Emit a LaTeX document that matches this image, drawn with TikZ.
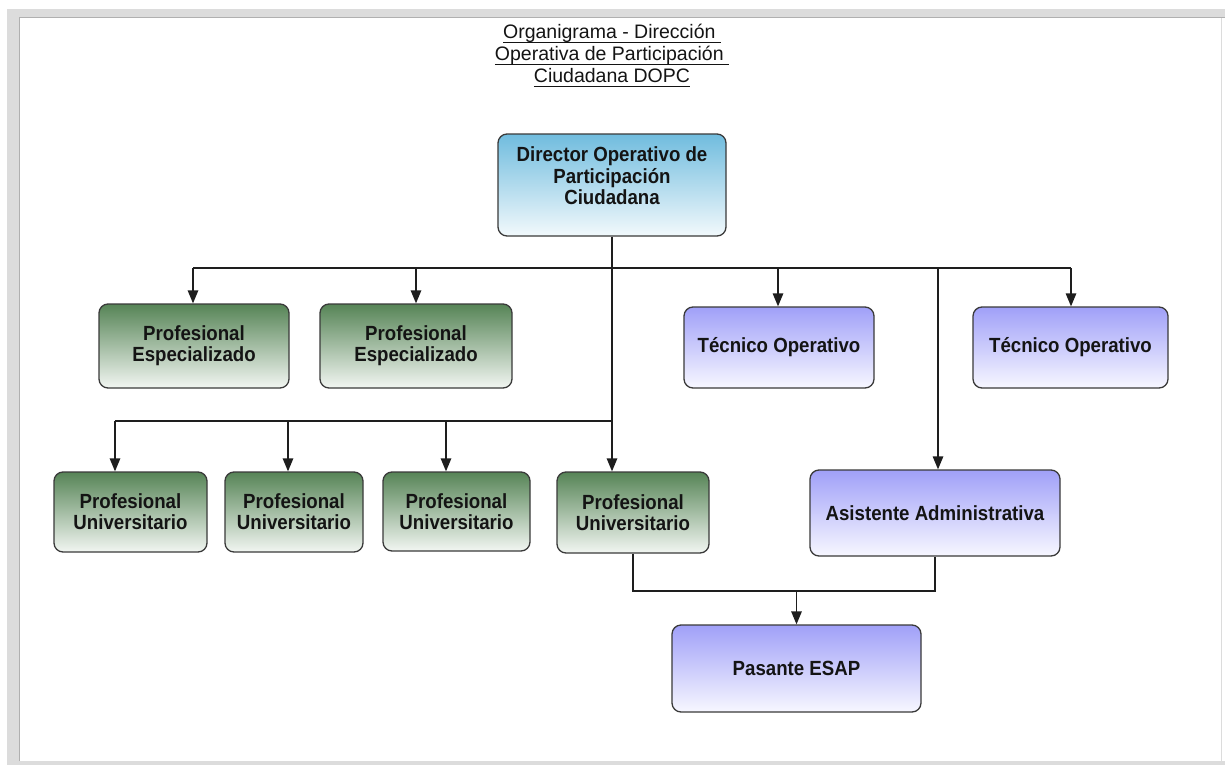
\documentclass[tikz,border=0pt]{standalone}
\usepackage{fontspec}
\setmainfont{Liberation Sans}
\newfontfamily\boxfont[FakeStretch=0.91]{Liberation Sans}
\usetikzlibrary{arrows.meta}
\definecolor{framegray}{RGB}{220,220,220}
\definecolor{frameedge}{RGB}{176,176,176}
\definecolor{bordercol}{RGB}{58,58,58}
\definecolor{linecol}{RGB}{30,30,30}
\definecolor{textcol}{RGB}{20,20,20}
\definecolor{gtop}{RGB}{86,132,86}
\definecolor{gbot}{RGB}{242,246,242}
\definecolor{ptop}{RGB}{160,160,248}
\definecolor{pbot}{RGB}{247,247,255}
\definecolor{btop}{RGB}{112,188,222}
\definecolor{bbot}{RGB}{242,249,252}
\newcommand\ulin[1]{\setbox0\hbox{#1}\rlap{\rule[-4.2pt]{\wd0}{1.3pt}}\box0}
\begin{document}
\begin{tikzpicture}[x=1pt,y=-1pt,
  box/.style={draw=bordercol, line width=1.3pt, rounded corners=9pt, inner sep=0pt,
    align=center, text=textcol, font=\boxfont\bfseries\fontsize{20.5}{21}\selectfont},
  gbox/.style={box, top color=gtop, bottom color=gbot},
  pbox/.style={box, top color=ptop, bottom color=pbot},
  bbox/.style={box, top color=btop, bottom color=bbot},
  conn/.style={draw=linecol, line width=1.3pt},
  arr/.style={conn, -{Triangle[length=13pt,width=10.5pt]}},
  titlestyle/.style={align=center, inner sep=0pt, text=textcol, font=\fontsize{19.5}{22}\selectfont}]
\useasboundingbox (0,0) rectangle (1225,765);
% frame
\fill[white] (0,0) rectangle (1225,765);
\fill[framegray] (7,9) rectangle (1225,765);
\fill[white] (19,17) rectangle (1225,761);
\draw[frameedge, line width=1pt] (19.5,761) -- (19.5,17.5) -- (1225,17.5);
\draw[framegray, line width=0.8pt] (1221.5,18) -- (1221.5,761);
% title
\node[titlestyle, anchor=base] (title) at (612,83)
  {\ulin{Organigrama - Dirección\ }\\\ulin{Operativa de Participación\ }\\\ulin{Ciudadana DOPC}};
% boxes
\node[bbox, minimum width=228pt, minimum height=102pt, font=\boxfont\bfseries\fontsize{20.5}{21.5}\selectfont] (dir) at (612,185)
  {Director Operativo de\\Participación\\Ciudadana\rule[-18pt]{0pt}{0pt}};
\node[gbox, minimum width=190pt, minimum height=84pt] (pe1) at (194,346) {Profesional\\Especializado};
\node[gbox, minimum width=192pt, minimum height=84pt] (pe2) at (416,346) {Profesional\\Especializado};
\node[pbox, minimum width=190pt, minimum height=81pt] (to1) at (779,347.5) {Técnico Operativo};
\node[pbox, minimum width=195pt, minimum height=81pt] (to2) at (1070.5,347.5) {Técnico Operativo};
\node[gbox, minimum width=153pt, minimum height=80pt] (pu1) at (130.5,512) {Profesional\\Universitario};
\node[gbox, minimum width=138pt, minimum height=80pt] (pu2) at (294,512) {Profesional\\Universitario};
\node[gbox, minimum width=147pt, minimum height=79pt] (pu3) at (456.5,511.5) {Profesional\\Universitario};
\node[gbox, minimum width=152pt, minimum height=81pt] (pu4) at (633,512.5) {Profesional\\Universitario};
\node[pbox, minimum width=250pt, minimum height=86pt] (asi) at (935,513) {Asistente Administrativa};
\node[pbox, minimum width=249pt, minimum height=87pt] (pas) at (796.5,668.5) {Pasante ESAP};
% bus coordinates
\coordinate (b1) at (193,268);
\coordinate (b2) at (416,268);
\coordinate (b4) at (778,268);
\coordinate (b5) at (938,268);
\coordinate (b6) at (1071,268);
\coordinate (c0) at (612,421);
\coordinate (c1) at (115,421);
\coordinate (c2) at (288,421);
\coordinate (c3) at (446,421);
\coordinate (j) at (796.5,591);
% connectors
\draw[conn] (dir.south) -- (c0);
\draw[conn] (b1) -- (b6);
\draw[arr] (b1) -- (b1 |- pe1.north);
\draw[arr] (b2) -- (b2 |- pe2.north);
\draw[arr] (b4) -- (b4 |- to1.north);
\draw[arr] (b6) -- (b6 |- to2.north);
\draw[arr] (b5) -- (b5 |- asi.north);
\draw[conn] (c1) -- (c0);
\draw[arr] (c1) -- (c1 |- pu1.north);
\draw[arr] (c2) -- (c2 |- pu2.north);
\draw[arr] (c3) -- (c3 |- pu3.north);
\draw[arr] (c0) -- (c0 |- pu4.north);
\draw[conn] (pu4.south) |- (j) -| (asi.south);
\draw[arr] (j) -- (pas.north);
\end{tikzpicture}
\end{document}
